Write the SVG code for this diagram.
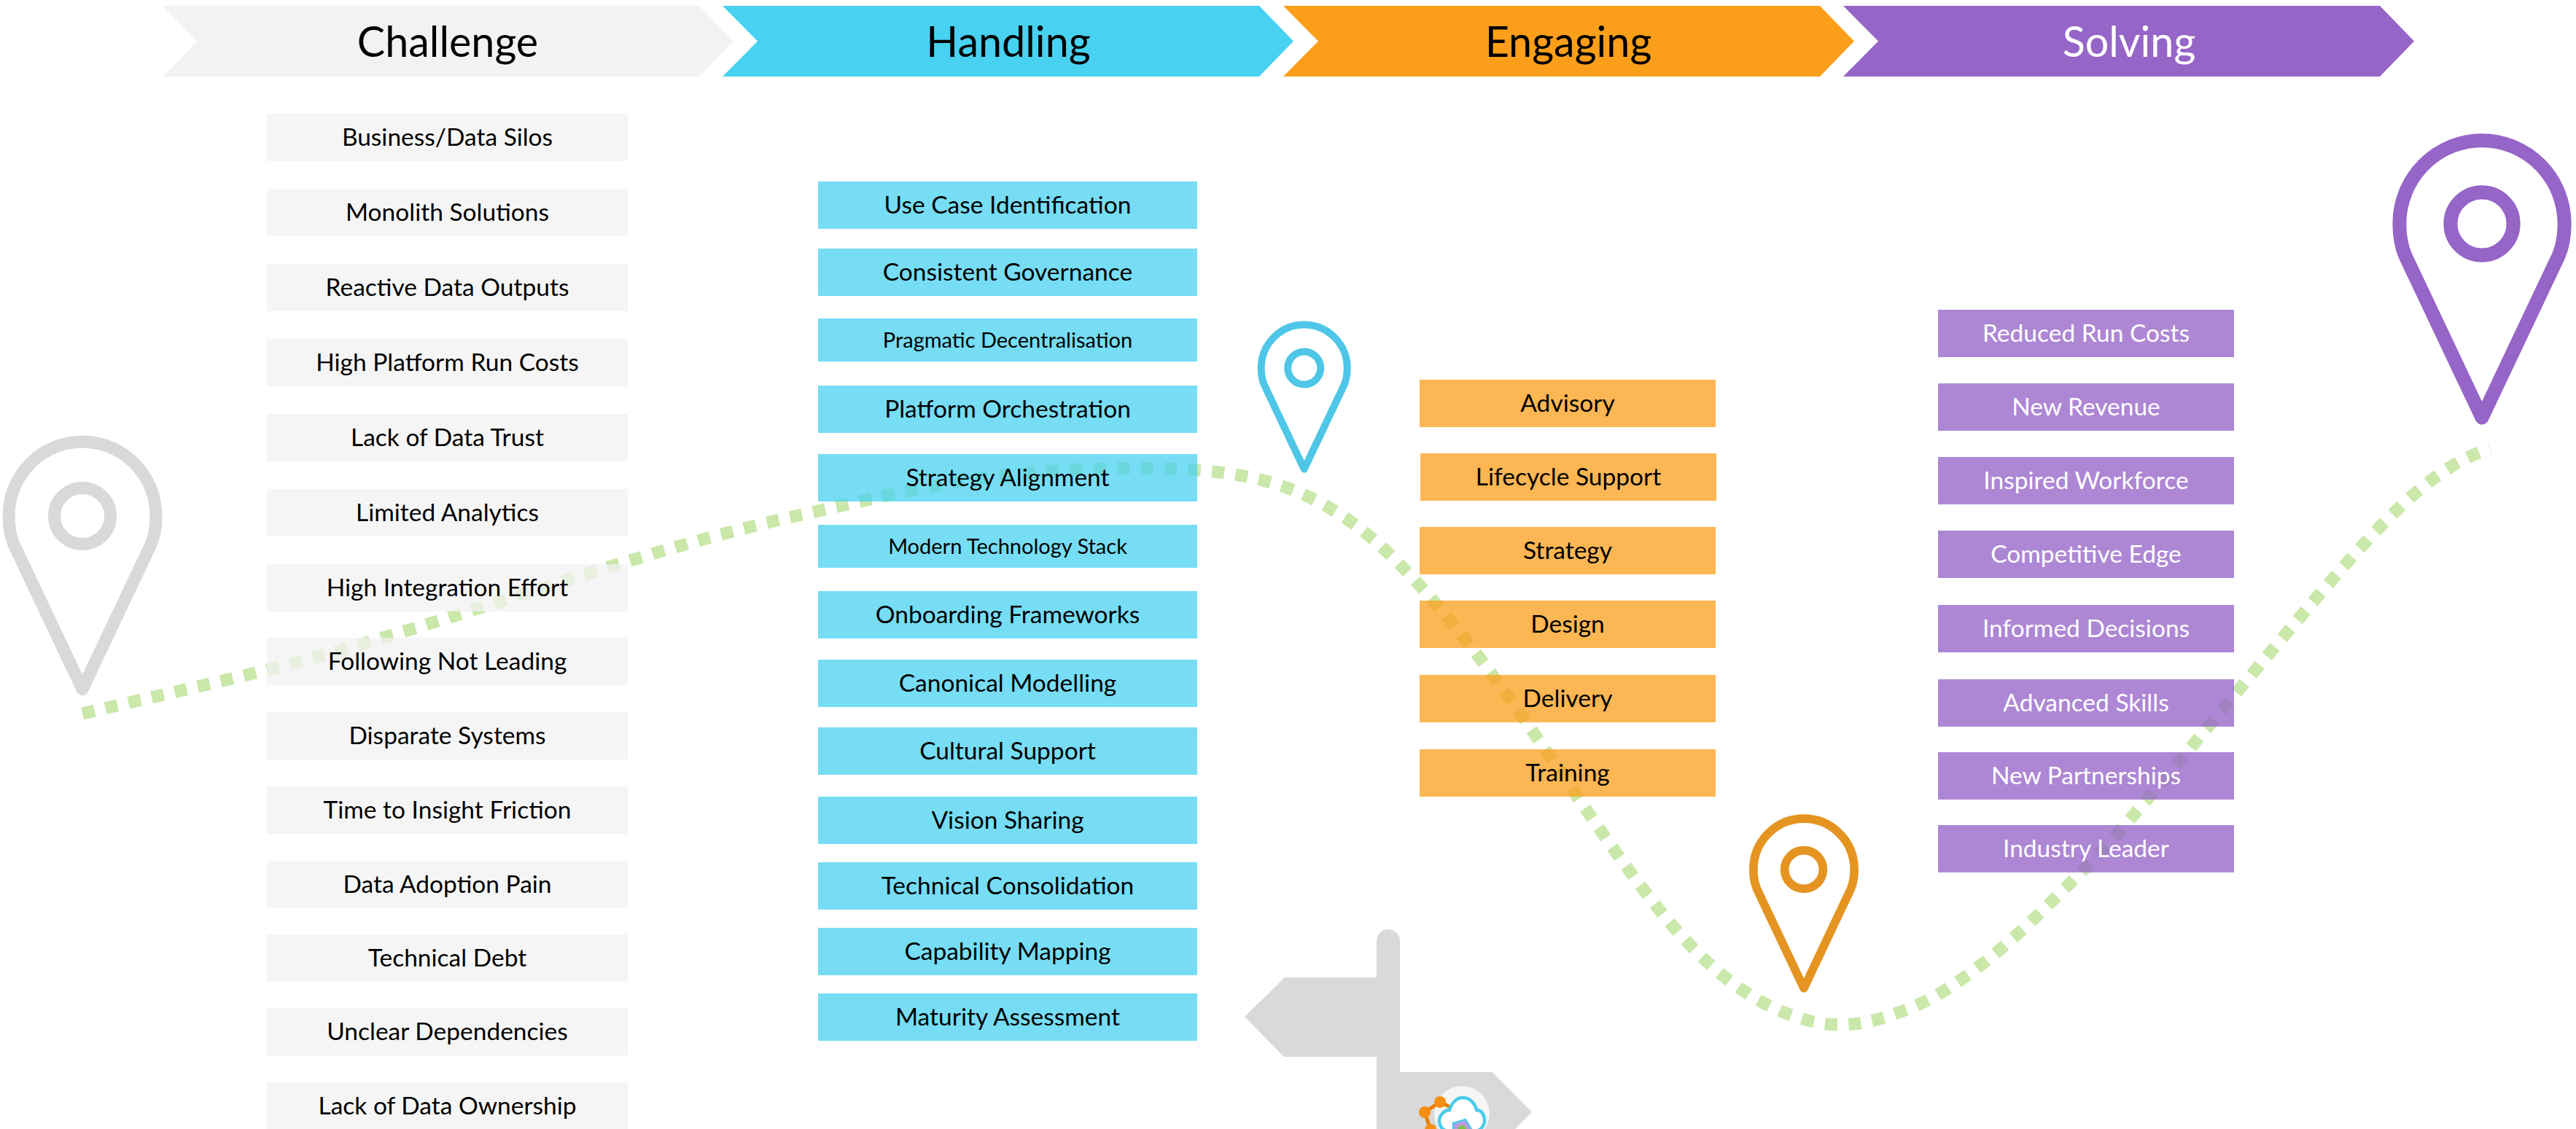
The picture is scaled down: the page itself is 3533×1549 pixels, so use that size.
<svg xmlns="http://www.w3.org/2000/svg" width="3533" height="1549" viewBox="0 0 3533 1549">
<style>
text{font-family:Lato,"Liberation Sans",sans-serif;font-weight:400;font-size:33.5px;text-anchor:middle;fill:#000}
.h{font-size:57.5px;font-weight:400}
.s{font-size:29px}
.w{fill:#fff}
.c rect{fill:#f2f2f2;fill-opacity:.75}
.b rect{fill:#48d1f0;fill-opacity:.75}
.o rect{fill:#fb9e1a;fill-opacity:.75}
.p rect{fill:#9665c8;fill-opacity:.78}
.ps{fill:none;stroke-width:17;stroke-linejoin:round}
#route{fill:none;stroke:#c9e8a9;stroke-width:17;stroke-dasharray:17 15.5}
</style>
<defs>
<g id="pinshape" class="ps"><path d="M94,39C99,27 101,14 101,0A101,102 0 0 0 -101,0C-101,14 -99,27 -94,39L0,237.5Z"/><circle r="38.5"/></g>
</defs>
<g id="connectors"><path id="route" d="M113,979C198,959 282,940 367,919C611,858 856,760 1100,706C1185,687 1269,666 1354,655C1417,647 1481,642.5 1544,642.5C1608,642.5 1672,643 1736,660C1791,675 1845,703 1900,755C1949,801 1997,859 2046,925C2107,1007 2168,1103 2229,1187C2271,1245 2313,1296 2355,1332C2381,1354 2407,1371 2433,1383C2463,1397 2494,1406 2524,1406C2556,1406 2588,1396 2620,1383C2656,1369 2692,1344 2728,1315C2767,1284 2806,1245 2845,1206C2915,1136 2985,1049 3055,965C3096,916 3138,866 3179,818C3240,747 3301,677 3362,640C3380,629 3397,622 3415,615"/></g>
<g id="signpost" fill="#d9d9d9"><path d="M1888,1291a16,16 0 0 1 32,0V1471H2047L2101,1526L2046,1581H1888V1450H1761L1707,1395L1762,1341H1888Z"/>
<circle cx="2005" cy="1528" r="38" fill="#f5f5f5"/>
<path d="M1975,1512L1954,1526L1962,1550M1975,1512L1995,1522" fill="none" stroke="#e87e04" stroke-width="5"/>
<circle cx="1975" cy="1512" r="8" fill="#f58f14"/><circle cx="1954" cy="1526" r="8" fill="#f58f14"/><circle cx="1962" cy="1550" r="8" fill="#f58f14"/>
<path d="M1988,1552C1978,1552 1974,1544 1974,1538C1974,1530 1981,1523 1988,1523C1991,1513 1998,1506 2006,1506C2015,1506 2023,1513 2025,1523C2032,1523 2036,1530 2036,1537C2036,1545 2030,1552 2022,1552Z" fill="#fff" stroke="#4bcbec" stroke-width="4.5"/>
<path d="M1993,1541L2010,1536L2018,1549V1560H1993Z" fill="#b99ade" stroke="#4bcbec" stroke-width="2.5"/><circle cx="2005" cy="1550" r="6" fill="#7cc243"/></g>
<g id="header-challenge"><polygon points="223,8 959,8 1006,56.5 959,105 223,105 271,56.5" fill="#f2f2f2"/><text class="h" x="614" y="78">Challenge</text></g>
<g id="header-handling"><polygon points="991,8 1727,8 1774,56.5 1727,105 991,105 1039,56.5" fill="#48d1f0"/><text class="h" x="1383" y="78">Handling</text></g>
<g id="header-engaging"><polygon points="1760,8 2496,8 2543,56.5 2496,105 1760,105 1808,56.5" fill="#fb9e1a"/><text class="h" x="2151" y="78">Engaging</text></g>
<g id="header-solving"><polygon points="2528,8 3264,8 3311,56.5 3264,105 2528,105 2576,56.5" fill="#9665c8"/><text class="h w" x="2920" y="78">Solving</text></g>
<g id="challenge-1" class="c"><rect x="366" y="156" width="495" height="65"/><text x="613.500" y="200">Business/Data Silos</text></g>
<g id="challenge-2" class="c"><rect x="366" y="259" width="495" height="65"/><text x="613.500" y="303">Monolith Solutions</text></g>
<g id="challenge-3" class="c"><rect x="366" y="362" width="495" height="65"/><text x="613.500" y="406">Reactive Data Outputs</text></g>
<g id="challenge-4" class="c"><rect x="366" y="465" width="495" height="65"/><text x="613.500" y="509">High Platform Run Costs</text></g>
<g id="challenge-5" class="c"><rect x="366" y="568" width="495" height="65"/><text x="613.500" y="612">Lack of Data Trust</text></g>
<g id="challenge-6" class="c"><rect x="366" y="671" width="495" height="65"/><text x="613.500" y="715">Limited Analytics</text></g>
<g id="challenge-7" class="c"><rect x="366" y="774" width="495" height="65"/><text x="613.500" y="818">High Integration Effort</text></g>
<g id="challenge-8" class="c"><rect x="366" y="875" width="495" height="65"/><text x="613.500" y="919">Following Not Leading</text></g>
<g id="challenge-9" class="c"><rect x="366" y="977" width="495" height="65"/><text x="613.500" y="1021">Disparate Systems</text></g>
<g id="challenge-10" class="c"><rect x="366" y="1079" width="495" height="65"/><text x="613.500" y="1123">Time to Insight Friction</text></g>
<g id="challenge-11" class="c"><rect x="366" y="1181" width="495" height="65"/><text x="613.500" y="1225">Data Adoption Pain</text></g>
<g id="challenge-12" class="c"><rect x="366" y="1282" width="495" height="65"/><text x="613.500" y="1326">Technical Debt</text></g>
<g id="challenge-13" class="c"><rect x="366" y="1383" width="495" height="65"/><text x="613.500" y="1427">Unclear Dependencies</text></g>
<g id="challenge-14" class="c"><rect x="366" y="1485" width="495" height="65"/><text x="613.500" y="1529">Lack of Data Ownership</text></g>
<g id="handling-1" class="b"><rect x="1122" y="249" width="520" height="65"/><text x="1382" y="293">Use Case Identification</text></g>
<g id="handling-2" class="b"><rect x="1122" y="341" width="520" height="65"/><text x="1382" y="385">Consistent Governance</text></g>
<g id="handling-3" class="b"><rect x="1122" y="437" width="520" height="59"/><text class="s" x="1382" y="477">Pragmatic Decentralisation</text></g>
<g id="handling-4" class="b"><rect x="1122" y="529" width="520" height="65"/><text x="1382" y="573">Platform Orchestration</text></g>
<g id="handling-5" class="b"><rect x="1122" y="623" width="520" height="65"/><text x="1382" y="667">Strategy Alignment</text></g>
<g id="handling-6" class="b"><rect x="1122" y="720" width="520" height="59"/><text class="s" x="1382" y="760">Modern Technology Stack</text></g>
<g id="handling-7" class="b"><rect x="1122" y="811" width="520" height="65"/><text x="1382" y="855">Onboarding Frameworks</text></g>
<g id="handling-8" class="b"><rect x="1122" y="905" width="520" height="65"/><text x="1382" y="949">Canonical Modelling</text></g>
<g id="handling-9" class="b"><rect x="1122" y="998" width="520" height="65"/><text x="1382" y="1042">Cultural Support</text></g>
<g id="handling-10" class="b"><rect x="1122" y="1093" width="520" height="65"/><text x="1382" y="1137">Vision Sharing</text></g>
<g id="handling-11" class="b"><rect x="1122" y="1183" width="520" height="65"/><text x="1382" y="1227">Technical Consolidation</text></g>
<g id="handling-12" class="b"><rect x="1122" y="1273" width="520" height="65"/><text x="1382" y="1317">Capability Mapping</text></g>
<g id="handling-13" class="b"><rect x="1122" y="1363" width="520" height="65"/><text x="1382" y="1407">Maturity Assessment</text></g>
<g id="engaging-1" class="o"><rect x="1947" y="521" width="406" height="65"/><text x="2150" y="565">Advisory</text></g>
<g id="engaging-2" class="o"><rect x="1948" y="622" width="406" height="65"/><text x="2151" y="666">Lifecycle Support</text></g>
<g id="engaging-3" class="o"><rect x="1947" y="723" width="406" height="65"/><text x="2150" y="767">Strategy</text></g>
<g id="engaging-4" class="o"><rect x="1947" y="824" width="406" height="65"/><text x="2150" y="868">Design</text></g>
<g id="engaging-5" class="o"><rect x="1947" y="926" width="406" height="65"/><text x="2150" y="970">Delivery</text></g>
<g id="engaging-6" class="o"><rect x="1947" y="1028" width="406" height="65"/><text x="2150" y="1072">Training</text></g>
<g id="solving-1" class="p"><rect x="2658" y="425" width="406" height="65"/><text class="w" x="2861" y="469">Reduced Run Costs</text></g>
<g id="solving-2" class="p"><rect x="2658" y="526" width="406" height="65"/><text class="w" x="2861" y="570">New Revenue</text></g>
<g id="solving-3" class="p"><rect x="2658" y="627" width="406" height="65"/><text class="w" x="2861" y="671">Inspired Workforce</text></g>
<g id="solving-4" class="p"><rect x="2658" y="728" width="406" height="65"/><text class="w" x="2861" y="772">Competitive Edge</text></g>
<g id="solving-5" class="p"><rect x="2658" y="830" width="406" height="65"/><text class="w" x="2861" y="874">Informed Decisions</text></g>
<g id="solving-6" class="p"><rect x="2658" y="932" width="406" height="65"/><text class="w" x="2861" y="976">Advanced Skills</text></g>
<g id="solving-7" class="p"><rect x="2658" y="1032" width="406" height="65"/><text class="w" x="2861" y="1076">New Partnerships</text></g>
<g id="solving-8" class="p"><rect x="2658" y="1132" width="406" height="65"/><text class="w" x="2861" y="1176">Industry Leader</text></g>
<g id="pin-grey" stroke="#d9d9d9" transform="translate(113,708)"><use href="#pinshape"/></g>
<g id="pin-blue" stroke="#4ec6e8" transform="translate(1788.700,505) scale(.584)"><use href="#pinshape"/></g>
<g id="pin-orange" stroke="#e59422" transform="translate(2474,1193) scale(.685)"><use href="#pinshape"/></g>
<g id="pin-purple" stroke="#9665c8" transform="translate(3404,307) scale(1.12)"><use href="#pinshape"/></g>
</svg>
